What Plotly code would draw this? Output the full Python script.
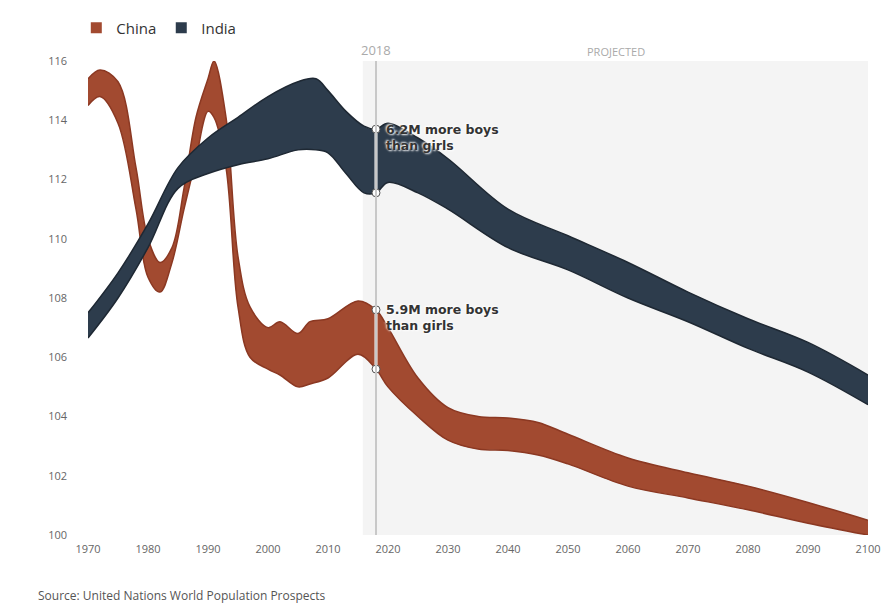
import plotly.graph_objects as go

years_china = [1970, 1972, 1975, 1978, 1980, 1982, 1984, 1986, 1988, 1990, 1991, 1993, 1995, 1997,
               2000, 2002, 2005, 2007, 2010, 2015, 2018, 2020, 2025, 2030, 2035, 2040, 2045,
               2050, 2060, 2070, 2080, 2090, 2100]
china_upper = [115.4, 115.7, 115.3, 112.4, 110.0, 109.2, 109.7, 111.7, 114.1, 115.4, 116.0, 114.1,
               109.4, 107.7, 107.0, 107.2, 106.8, 107.2, 107.3, 107.9, 107.6, 107.0, 105.3, 104.3,
               104.0, 103.95, 103.8, 103.4, 102.6, 102.1, 101.65, 101.1, 100.5]
china_lower = [114.5, 114.8, 113.9, 111.0, 108.7, 108.2, 109.2, 111.0, 112.7, 114.3, 114.1, 112.4,
               107.7, 106.0, 105.6, 105.4, 105.0, 105.1, 105.3, 106.1, 105.6, 105.0, 104.0, 103.2,
               102.9, 102.85, 102.7, 102.4, 101.65, 101.25, 100.85, 100.4, 100.0]

years_india = [1970, 1975, 1980, 1985, 1990, 1995, 2000, 2005, 2008, 2010, 2013, 2016, 2018, 2020,
               2025, 2030, 2040, 2050, 2060, 2070, 2080, 2090, 2100]
india_upper = [107.5, 108.85, 110.5, 112.4, 113.4, 114.1, 114.8, 115.3, 115.4, 115.0, 114.3, 113.8,
               113.7, 113.9, 113.4, 112.7, 111.0, 110.1, 109.2, 108.2, 107.3, 106.5, 105.4]
india_lower = [106.65, 108.0, 109.7, 111.7, 112.2, 112.5, 112.7, 113.0, 113.0, 112.9, 112.2, 111.55,
               111.55, 111.9, 111.55, 111.0, 109.7, 108.95, 108.0, 107.2, 106.3, 105.5, 104.4]

china_2018 = [105.6, 107.6]
india_2018 = [111.55, 113.7]

CHINA_FILL, CHINA_LINE = "#a24a30", "#8b3822"
INDIA_FILL, INDIA_LINE = "#2d3c4c", "#1e2833"

fig = go.Figure()

fig.add_shape(type="rect", x0=2015.8, x1=2100, y0=100, y1=116, xref="x", yref="y",
              fillcolor="#f4f4f4", line_width=0, layer="below")


def band(years, upper, lower, fill, line):
    fig.add_trace(go.Scatter(x=years, y=upper, mode="lines", line=dict(color=line, width=1.5, shape="spline"),
                             showlegend=False, hoverinfo="skip"))
    fig.add_trace(go.Scatter(x=years, y=lower, mode="lines", line=dict(color=line, width=1.5, shape="spline"),
                             fill="tonexty", fillcolor=fill, showlegend=False))


band(years_china, china_upper, china_lower, CHINA_FILL, CHINA_LINE)
band(years_india, india_upper, india_lower, INDIA_FILL, INDIA_LINE)

fig.add_shape(type="line", x0=2018, x1=2018, y0=100, y1=116.3, line=dict(color="#c8c8c8", width=2))

for vals in (china_2018, india_2018):
    fig.add_trace(go.Scatter(x=[2018, 2018], y=vals, mode="lines+markers", showlegend=False,
                             line=dict(color="white", width=3),
                             marker=dict(size=8, color="white", line=dict(color="#555", width=1))))

# legend entries
for rank, (name, col) in enumerate((("China", CHINA_FILL), ("India", INDIA_FILL))):
    fig.add_trace(go.Scatter(x=[None], y=[None], mode="markers", name=name, legendrank=rank + 1,
                             marker=dict(symbol="square", size=11, color=col)))

ann_font = dict(family="DejaVu Sans", size=12.5, color="#333", weight="bold",
                shadow="1px 1px 2px white, -1px -1px 2px white")
fig.add_annotation(x=2019.3, y=113.7, text="6.2M more boys<br>than girls", showarrow=False,
                   xanchor="left", yanchor="middle", align="left", font=ann_font, yshift=-8)
fig.add_annotation(x=2019.3, y=107.6, text="5.9M more boys<br>than girls", showarrow=False,
                   xanchor="left", yanchor="middle", align="left", font=ann_font, yshift=-8)
fig.add_annotation(x=2018, y=1, yref="paper", text="2018", showarrow=False, yanchor="bottom",
                   font=dict(family="Open Sans", size=13, color="#aaa"))
fig.add_annotation(x=2058, y=1, yref="paper", text="PROJECTED", showarrow=False, yanchor="bottom",
                   font=dict(family="Open Sans", size=11, color="#aaa"))
fig.add_annotation(x=28, y=577, xref="paper", yref="paper", text="Source: United Nations World Population Prospects",
                   showarrow=False, xanchor="left", yanchor="top",
                   font=dict(family="Open Sans", size=12, color="#555"))
# reposition source using container coords
fig.layout.annotations[-1].update(xref="paper", yref="paper", x=-52 / 780, y=-50 / 474)

fig.update_layout(
    width=895, height=609, margin=dict(l=80, r=35, t=53, b=82, autoexpand=False),
    plot_bgcolor="white", paper_bgcolor="white",
    font=dict(family="Open Sans", color="#666", size=11),
    legend=dict(orientation="h", x=-0.015, y=1.035, xanchor="left", yanchor="bottom",
                font=dict(size=15, color="#333"), traceorder="normal",
                itemwidth=30, tracegroupgap=0),
    xaxis=dict(range=[1970, 2100], tickvals=list(range(1970, 2101, 10)), showgrid=False,
               zeroline=False, showline=False, ticks="", ticklabelstandoff=6),
    yaxis=dict(range=[100, 116], tickvals=list(range(100, 117, 2)), showgrid=False,
               zeroline=False, ticks="", ticklabelstandoff=20),
)

fig.write_html("out.html")
